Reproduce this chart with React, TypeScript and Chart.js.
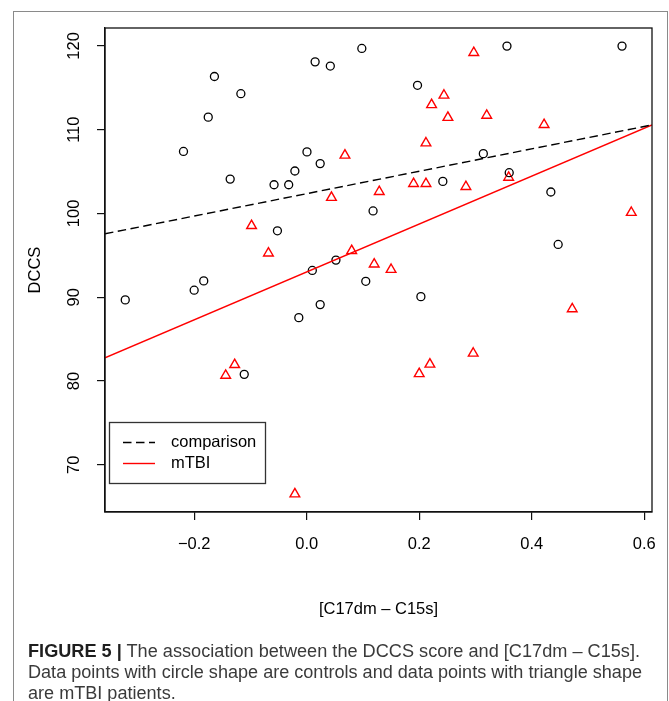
import React, { useEffect, useRef } from "react";
import { Chart, registerables } from "chart.js";

Chart.register(...registerables);

// ---- data ----
const controlX = [
  0.098, 0.015, 0.042, -0.164, -0.117, -0.175, -0.219, 0.0005, 0.024, -0.021,
  -0.136, -0.058, -0.032, 0.118, 0.356, 0.5605, 0.197, 0.314, 0.36, 0.242,
  0.434, -0.052, 0.052, 0.01, 0.105, -0.183, -0.2, -0.3225, 0.024, -0.014,
  0.447, 0.203, -0.111,
];
const controlY = [
  119.7, 118.1, 117.6, 116.35, 114.3, 111.5, 107.4, 107.35, 105.95, 105.07,
  104.1, 103.43, 103.43, 100.3, 119.98, 119.98, 115.3, 107.14, 104.87, 103.83,
  102.56, 97.93, 94.43, 93.2, 91.9, 91.95, 90.84, 89.68, 89.12, 87.56,
  96.3, 90.07, 80.79,
];
const mtbiX = [
  0.068, 0.044, 0.129, 0.297, 0.244, 0.222, 0.251, 0.32, 0.422, 0.212,
  0.19, 0.212, 0.283, 0.359, 0.577, -0.098, -0.068, 0.08, 0.12, 0.15,
  0.472, -0.128, -0.144, -0.021, 0.296, 0.219, 0.2,
];
const mtbiY = [
  106.94, 101.9, 102.6, 119.2, 114.1, 112.97, 111.45, 111.7, 110.6, 108.4,
  103.55, 103.55, 103.2, 104.3, 100.1, 98.53, 95.26, 95.54, 93.95, 93.3,
  88.6, 81.94, 80.67, 66.5, 83.3, 81.99, 80.86,
];

const xRange = [-0.3585, 0.6138];
const yRange = [64.36, 122.14];
const xTicks = [-0.2, 0, 0.2, 0.4, 0.6];
const xTickLabels = ["\u22120.2", "0.0", "0.2", "0.4", "0.6"];
const yTicks = [70, 80, 90, 100, 110, 120];
const yTickLabels = ["70", "80", "90", "100", "110", "120"];
// fitted lines: y values at the two ends of the x range
const comparisonLineY = [97.57, 110.57];
const mtbiLineY = [82.77, 110.57];
const legendLabels = ["comparison", "mTBI"];
const xTitle = "[C17dm \u2013 C15s]";
const yTitle = "DCCS";
const captionBold = "FIGURE 5 |";
const captionLines = [
  " The association between the DCCS score and [C17dm \u2013 C15s].",
  "Data points with circle shape are controls and data points with triangle shape",
  "are mTBI patients.",
];

const FONT = "'Liberation Sans', Arial, Helvetica, sans-serif";
const FS = 16.5;

const rPlugin = {
  id: "rstyle",
  afterDraw(chart: any) {
    const ctx = chart.ctx;
    const ca = chart.chartArea;
    const ys = chart.scales.y;
    ctx.save();
    // box
    ctx.strokeStyle = "#111";
    ctx.lineWidth = 1.3;
    ctx.setLineDash([]);
    ctx.strokeRect(ca.left, ca.top, ca.right - ca.left, ca.bottom - ca.top);
    // rotated y tick labels
    ctx.fillStyle = "#000";
    ctx.font = `${FS}px ${FONT}`;
    ctx.textAlign = "center";
    ctx.textBaseline = "middle";
    yTicks.forEach((v, i) => {
      const py = ys.getPixelForValue(v);
      ctx.save();
      ctx.translate(ca.left - 31, py);
      ctx.rotate(-Math.PI / 2);
      ctx.fillText(yTickLabels[i], 0, 0);
      ctx.restore();
    });
    // legend
    const lx = ca.left + 4;
    const ly = ca.bottom - 90;
    ctx.strokeStyle = "#333";
    ctx.lineWidth = 1.3;
    ctx.strokeRect(lx + 0.5, ly + 0.5, 156, 61);
    const ds = chart.data.datasets;
    [0, 1].forEach((k) => {
      const yy = ly + 20.5 + k * 21;
      ctx.beginPath();
      ctx.strokeStyle = ds[k].borderColor;
      ctx.lineWidth = ds[k].borderWidth;
      ctx.setLineDash(ds[k].borderDash || []);
      ctx.moveTo(lx + 14, yy);
      ctx.lineTo(lx + 46, yy);
      ctx.stroke();
      ctx.setLineDash([]);
      ctx.fillStyle = "#000";
      ctx.textAlign = "left";
      ctx.textBaseline = "middle";
      ctx.fillText(legendLabels[k], lx + 62, yy);
    });
    ctx.restore();
  },
};

function ChartCanvas() {
  const ref = useRef<HTMLCanvasElement | null>(null);
  useEffect(() => {
    if (!ref.current) return;
    const chart = new Chart(ref.current, {
      type: "scatter",
      data: {
        datasets: [
          {
            label: legendLabels[0],
            data: [
              { x: xRange[0], y: comparisonLineY[0] },
              { x: xRange[1], y: comparisonLineY[1] },
            ],
            showLine: true,
            borderColor: "#000",
            borderWidth: 1.4,
            borderDash: [8.5, 4.5],
            pointRadius: 0,
          },
          {
            label: legendLabels[1],
            data: [
              { x: xRange[0], y: mtbiLineY[0] },
              { x: xRange[1], y: mtbiLineY[1] },
            ],
            showLine: true,
            borderColor: "#ff0000",
            borderWidth: 1.4,
            pointRadius: 0,
          },
          {
            label: "controls",
            data: controlX.map((x, i) => ({ x, y: controlY[i] })),
            pointStyle: "circle",
            pointRadius: 4,
            borderColor: "#000",
            borderWidth: 1.3,
            backgroundColor: "rgba(0,0,0,0)",
          },
          {
            label: "mTBI patients",
            data: mtbiX.map((x, i) => ({ x, y: mtbiY[i] })),
            pointStyle: "triangle",
            pointRadius: 5.6,
            borderColor: "#ff0000",
            borderWidth: 1.4,
            backgroundColor: "rgba(0,0,0,0)",
          },
        ] as any,
      },
      options: {
        responsive: false,
        animation: false,
        events: [],
        layout: { padding: { left: 0, right: 17, top: 28, bottom: 0 } },
        plugins: { legend: { display: false }, tooltip: { enabled: false } },
        scales: {
          x: {
            type: "linear",
            min: xRange[0],
            max: xRange[1],
            afterBuildTicks: (s: any) => {
              s.ticks = xTicks.map((v) => ({ value: v }));
            },
            afterFit: (s: any) => {
              s.height = 128;
              s.paddingLeft = 0;
              s.paddingRight = 0;
            },
            grid: {
              drawOnChartArea: false,
              drawTicks: true,
              tickLength: 8,
              color: "#111",
              lineWidth: 1.2,
            },
            border: { display: true, color: "#111", width: 1.3 },
            ticks: {
              color: "#000",
              font: { family: FONT, size: FS },
              padding: 15,
              maxRotation: 0,
              minRotation: 0,
              autoSkip: false,
              callback: (_v: any, i: number) => xTickLabels[i],
            },
            title: {
              display: true,
              text: xTitle,
              color: "#000",
              font: { family: FONT, size: FS },
              padding: { top: 0, bottom: 21 },
            },
          },
          y: {
            type: "linear",
            min: yRange[0],
            max: yRange[1],
            afterBuildTicks: (s: any) => {
              s.ticks = yTicks.map((v) => ({ value: v }));
            },
            afterFit: (s: any) => {
              s.width = 105;
              s.paddingTop = 0;
              s.paddingBottom = 0;
            },
            grid: {
              drawOnChartArea: false,
              drawTicks: true,
              tickLength: 8,
              color: "#111",
              lineWidth: 1.2,
            },
            border: { display: true, color: "#111", width: 1.3 },
            ticks: { display: false },
            title: {
              display: true,
              text: yTitle,
              color: "#000",
              font: { family: FONT, size: FS },
              padding: { top: 26, bottom: 0 },
            },
          },
        },
      } as any,
      plugins: [rPlugin],
    });
    return () => chart.destroy();
  }, []);
  return (
    <canvas
      ref={ref}
      width={669}
      height={640}
      style={{ position: "absolute", left: 0, top: 0, width: 669, height: 640 }}
    />
  );
}

function Caption() {
  const refs = useRef<(HTMLSpanElement | null)[]>([]);
  const targets = [612, 614, 0];
  useEffect(() => {
    let s2 = 1;
    refs.current.forEach((el, i) => {
      if (!el) return;
      const w = el.getBoundingClientRect().width;
      if (i < 2 && w > 0) {
        const s = targets[i] / w;
        if (i === 1) s2 = s;
        el.style.transform = `scaleX(${s})`;
      } else {
        el.style.transform = `scaleX(${s2})`;
      }
    });
  }, []);
  const lineStyle: React.CSSProperties = {
    position: "absolute",
    left: 28,
    whiteSpace: "nowrap",
    height: 21,
    lineHeight: "21px",
  };
  const spanStyle: React.CSSProperties = {
    display: "inline-block",
    transformOrigin: "0 50%",
  };
  return (
    <div
      style={{
        position: "absolute",
        left: 0,
        top: 0,
        width: 669,
        height: 701,
        fontFamily: "'Liberation Sans Narrow', 'Liberation Sans', Arial, sans-serif",
        fontSize: 17.5,
        color: "#3a3a3a",
      }}
    >
      {captionLines.map((t, i) => (
        <div key={i} style={{ ...lineStyle, top: 641 + i * 21 }}>
          <span ref={(el) => { refs.current[i] = el; }} style={spanStyle}>
            {i === 0 ? (
              <b style={{ color: "#1e1e1e" }}>{captionBold}</b>
            ) : null}
            {t}
          </span>
        </div>
      ))}
    </div>
  );
}

export default function App() {
  return (
    <div
      style={{
        position: "fixed",
        left: 0,
        top: 0,
        width: 669,
        height: 701,
        overflow: "hidden",
        background: "#fff",
      }}
    >
      <div
        style={{
          position: "absolute",
          left: 13,
          top: 11,
          width: 653,
          height: 720,
          borderTop: "1.5px solid #8a8a8a",
          borderLeft: "1.5px solid #8a8a8a",
          borderRight: "1.5px solid #8a8a8a",
        }}
      />
      <ChartCanvas />
      <Caption />
    </div>
  );
}
